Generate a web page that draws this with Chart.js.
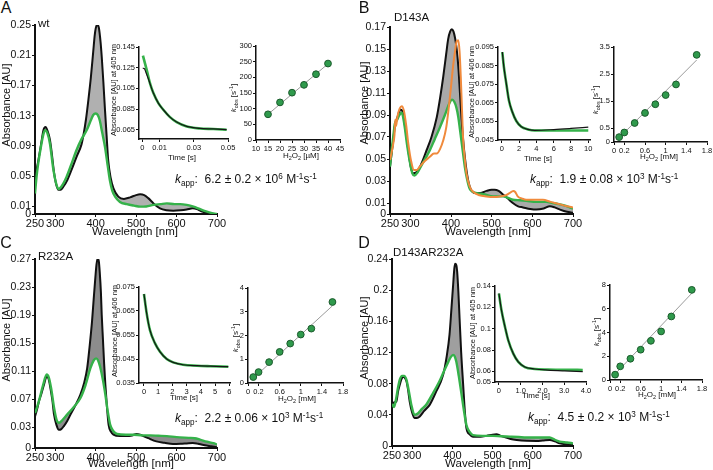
<!DOCTYPE html>
<html>
<head>
<meta charset="utf-8">
<script src="https://cdn.jsdelivr.net/npm/chart.js@4/dist/chart.umd.min.js"></script>
<style>
  html, body { margin: 0; padding: 0; background: #fff; }
  #fig { position: relative; width: 713px; height: 470px; overflow: hidden; font-family: 'Liberation Sans', Arial, sans-serif; color: #111; }
  .cv { position: absolute; }
  .lbl { position: absolute; white-space: nowrap; line-height: 1; transform: translate(-50%, -50%); }
  .lbl.left { transform: translate(0, -50%); }
  .rot { transform: translate(-50%, -50%) rotate(-90deg); }
  .lbl sub, .lbl sup { font-size: 68%; line-height: 0; }
  .lbl sub { vertical-align: -0.35em; }
  .lbl sup { vertical-align: 0.55em; }
</style>
</head>
<body>
<div id="fig"></div>
<script>
// ─── Panel A (wt) spectra ───
const aBlackWl  = [250,254,258,265,271,276,281,287,292,297,302,308,314,320,330,340,353,365,370,376,382,388,394,398,402,405,408,412,415,419,423,427,431,437,444,456,470,485,500,510,520,530,543,559,575,592,610,625,640,650,660,672,683,700];
const aBlackAbs = [0.036,0.058,0.07,0.092,0.111,0.115,0.110,0.098,0.078,0.055,0.040,0.032,0.032,0.036,0.045,0.058,0.076,0.092,0.105,0.125,0.151,0.18,0.215,0.238,0.249,0.25,0.246,0.228,0.208,0.175,0.138,0.104,0.071,0.048,0.034,0.023,0.020,0.022,0.025,0.026,0.025,0.021,0.014,0.0075,0.005,0.0044,0.005,0.006,0.0075,0.0065,0.004,0.002,0.0,0.0];
const aGreenWl  = [250,254,258,265,271,275,280,287,295,302,308,315,328,340,353,365,378,388,394,400,405,410,416,423,430,435,441,448,460,477,495,510,525,543,560,576,595,609,625,642,655,667,683,700];
const aGreenAbs = [0.027,0.05,0.067,0.09,0.106,0.111,0.108,0.093,0.06,0.041,0.033,0.036,0.049,0.066,0.085,0.099,0.111,0.124,0.131,0.133,0.131,0.124,0.108,0.089,0.063,0.045,0.031,0.023,0.016,0.013,0.011,0.0097,0.010,0.012,0.013,0.014,0.013,0.013,0.012,0.0097,0.007,0.0044,0.0018,0.0];
const aYTicks = [0,0.01,0.05,0.09,0.13,0.17,0.21,0.25];

// ─── Panel B (D143A) spectra ───
const bBlackWl  = [250,255,258,262,266,270,275,280,287,295,301,307,315,325,340,352,365,373,381,388,393,398,402,406,410,414,418,422,426,430,434,440,446,458,472,487,500,507,517,527,540,552,565,577,595,610,628,643,655,668,685,700];
const bBlackAbs = [0.043,0.058,0.067,0.08,0.085,0.09,0.095,0.094,0.08,0.058,0.043,0.037,0.038,0.044,0.058,0.07,0.088,0.105,0.125,0.145,0.159,0.166,0.168,0.166,0.160,0.15,0.134,0.11,0.086,0.067,0.052,0.035,0.025,0.019,0.019,0.021,0.022,0.022,0.021,0.018,0.014,0.010,0.007,0.006,0.0045,0.004,0.005,0.007,0.006,0.004,0.002,0.0012];
const bGreenWl  = [250,254,258,262,268,273,279,285,292,299,305,310,318,330,348,360,373,385,393,399,403,408,413,418,422,428,434,440,446,455,463,480,504,528,552,570,585,610,634,650,665,676,700];
const bGreenAbs = [0.043,0.058,0.07,0.082,0.086,0.09,0.092,0.082,0.063,0.047,0.037,0.035,0.038,0.046,0.058,0.068,0.079,0.09,0.098,0.103,0.104,0.102,0.097,0.088,0.077,0.06,0.043,0.031,0.023,0.02,0.019,0.018,0.016,0.016,0.013,0.0125,0.012,0.011,0.011,0.01,0.009,0.008,0.005];
const bOrangeWl  = [250,254,258,261,263,265,268,274,279,284,290,295,302,309,316,323,335,348,358,365,373,381,388,393,399,405,410,414,418,421,424,427,430,434,438,446,455,470,487,505,520,535,544,553,558,564,575,585,605,626,645,667,685,700];
const bOrangeAbs = [0.049,0.056,0.064,0.072,0.086,0.08,0.088,0.096,0.098,0.094,0.08,0.064,0.048,0.040,0.040,0.043,0.048,0.052,0.055,0.055,0.059,0.067,0.078,0.092,0.112,0.134,0.148,0.157,0.158,0.148,0.125,0.095,0.067,0.05,0.037,0.025,0.020,0.017,0.016,0.0155,0.016,0.017,0.019,0.021,0.02,0.016,0.014,0.013,0.013,0.013,0.011,0.009,0.007,0.006];
const bYTicks = [0,0.01,0.03,0.05,0.07,0.09,0.11,0.13,0.15,0.17];

// ─── Panel C (R232A) spectra ───
const cBlackWl  = [250,255,260,266,272,279,284,288,293,297,303,309,315,321,330,338,350,362,372,379,385,391,395,399,402,405,408,410,413,415,418,421,424,428,432,438,444,460,477,490,501,510,518,530,550,570,591,610,625,640,650,656,670,685,700];
const cBlackAbs = [0.045,0.055,0.067,0.078,0.09,0.102,0.098,0.086,0.068,0.048,0.033,0.026,0.027,0.031,0.039,0.048,0.061,0.076,0.094,0.114,0.145,0.181,0.212,0.242,0.262,0.271,0.266,0.252,0.222,0.19,0.155,0.12,0.09,0.058,0.033,0.023,0.019,0.017,0.017,0.018,0.020,0.019,0.017,0.014,0.0095,0.0075,0.0057,0.006,0.0065,0.007,0.0065,0.0057,0.004,0.0025,0.001];
const cGreenWl  = [250,255,262,270,279,284,290,297,303,309,318,330,345,362,375,387,395,401,406,411,418,424,430,436,444,453,475,494,515,535,555,576,600,630,645,658,675,691,700];
const cGreenAbs = [0.05,0.058,0.072,0.09,0.105,0.101,0.085,0.058,0.041,0.036,0.04,0.048,0.058,0.071,0.09,0.114,0.125,0.128,0.125,0.116,0.097,0.076,0.052,0.033,0.024,0.020,0.019,0.019,0.018,0.018,0.0175,0.017,0.0155,0.0145,0.014,0.012,0.009,0.007,0.005];
const cYTicks = [0,0.03,0.07,0.11,0.15,0.19,0.23,0.27];

// ─── Panel D (D143AR232A) spectra ───
const dBlackWl  = [250,255,261,265,269,273,277,281,286,290,294,300,306,312,319,330,344,360,377,386,393,398,402,405,407,410,412,415,418,422,427,431,435,443,451,470,485,500,510,518,526,545,560,585,609,625,642,655,667,685,700];
const dBlackAbs = [0.054,0.056,0.057,0.07,0.078,0.085,0.089,0.088,0.083,0.072,0.057,0.043,0.036,0.036,0.038,0.045,0.053,0.07,0.091,0.115,0.143,0.178,0.207,0.228,0.234,0.232,0.224,0.198,0.164,0.12,0.078,0.045,0.023,0.015,0.012,0.012,0.013,0.0145,0.015,0.0135,0.012,0.009,0.0077,0.0066,0.0064,0.007,0.0077,0.006,0.0034,0.002,0.0013];
const dGreenWl  = [250,255,260,265,270,275,280,286,292,298,306,315,325,335,350,368,380,390,396,402,406,410,416,423,429,435,443,451,475,501,520,543,565,584,610,642,655,667,685,700];
const dGreenAbs = [0.054,0.05,0.06,0.075,0.086,0.09,0.09,0.085,0.07,0.053,0.04,0.042,0.048,0.053,0.066,0.083,0.097,0.108,0.114,0.117,0.115,0.108,0.09,0.066,0.045,0.027,0.018,0.014,0.013,0.013,0.0125,0.012,0.0115,0.011,0.011,0.011,0.008,0.0056,0.0045,0.0034];
const dYTicks = [0,0.04,0.08,0.12,0.16,0.2,0.24];

const wlTicks = [250,300,400,500,600,700];

// ─── Stopped-flow traces ───
const aTraceT    = [0.0003,0.0025,0.0044,0.0064,0.0093,0.0122,0.0161,0.020,0.0259,0.0336,0.0414,0.0492];
const aTraceG    = [0.1366,0.1228,0.110,0.1004,0.0907,0.0843,0.0772,0.0724,0.0682,0.0662,0.0657,0.065];
const aTraceBlkT = [0.0002,0.0012,0.0020,0.0035,0.0064,0.0093,0.0122,0.0161,0.020,0.0259,0.0336,0.0414,0.0492];
const aTraceBlk  = [0.1245,0.124,0.1205,0.114,0.1004,0.0907,0.0843,0.0772,0.0724,0.0682,0.0662,0.0657,0.065];

const bTraceT    = [0.05,0.23,0.51,0.81,1.2,1.67,2.25,3.02,3.8,6,8,10];
const bTraceG    = [0.0923,0.0843,0.0754,0.0664,0.0602,0.0552,0.0521,0.0507,0.0501,0.0501,0.0501,0.0501];
const bTraceBlk  = [0.0923,0.0843,0.0754,0.0664,0.0602,0.0552,0.0521,0.0507,0.0502,0.0506,0.0512,0.0519];

const cTraceT    = [0,0.19,0.42,0.78,1.13,1.6,2.05,2.75,3.72,4.66,5.93];
const cTraceV    = [0.0721,0.064,0.057,0.0515,0.048,0.045,0.0436,0.0426,0.0422,0.042,0.0418];

const dTraceT    = [0,0.12,0.28,0.43,0.66,0.89,1.19,1.65,2.25,3,3.85];
const dTraceG    = [0.133,0.117,0.1016,0.089,0.0766,0.0688,0.064,0.0622,0.0617,0.0615,0.0613];
const dTraceBlk  = [0.133,0.117,0.1016,0.089,0.0766,0.0688,0.064,0.0622,0.0612,0.0604,0.0597];

// ─── kobs vs [H2O2] ───
const aConc = [15,20,25,30,35,40];
const aKobs = [82,120,151,176,210,244];
const aFitX = [15,40];
const aFitY = [82,243];

const mConc = [0.1,0.2,0.4,0.6,0.8,1.0,1.2,1.6];
const bKobs = [0.18,0.35,0.70,1.07,1.39,1.73,2.12,3.21];
const bFitX = [0.15,1.6];
const bFitY = [0.25,3.02];
const cKobs = [0.25,0.46,0.88,1.31,1.66,2.04,2.29,3.41];
const cFitX = [0.1,1.6];
const cFitY = [0.2,3.25];
const dKobs = [0.45,1.15,1.79,2.55,3.3,4.09,5.35,7.59];
const dFitX = [0.1,1.6];
const dFitY = [0.5,7.3];

const FONT = "'Liberation Sans', Arial, Helvetica, sans-serif";
const GREEN = '#35b24a';
const fig = document.getElementById('fig');

const pts = (xs, ys) => xs.map((x, i) => ({ x: x, y: ys[i] }));

const addLabel = (html, x, y, size, mode) => {
    const el = document.createElement('div');
    el.className = 'lbl' + (mode ? ' ' + mode : '');
    el.style.left = x + 'px';
    el.style.top = y + 'px';
    el.style.fontSize = size + 'px';
    el.innerHTML = html;
    fig.appendChild(el);
};

const axis = (min, max, ticks, fmt, size, bw, pad) => ({
    type: 'linear',
    min: min,
    max: max,
    afterBuildTicks: (s) => { s.ticks = ticks.map(v => ({ value: v })); },
    ticks: {
        autoSkip: false,
        maxRotation: 0,
        padding: pad === undefined ? 1 : pad,
        color: '#111',
        font: { family: FONT, size: size },
        callback: (v) => fmt(v)
    },
    grid: { display: true, drawOnChartArea: false, drawTicks: true, tickLength: 3, color: '#111', lineWidth: 1 },
    border: { display: true, color: '#111', width: bw }
});

// box = plot area [left, top, right, bottom] in page pixels
const makeChart = (box, xAxis, yAxis, datasets) => {
    const pad = { l: 40, t: 9, r: 14, b: 22 };
    const w = box[2] - box[0] + pad.l + pad.r;
    const h = box[3] - box[1] + pad.t + pad.b;
    const cv = document.createElement('canvas');
    cv.className = 'cv';
    cv.width = w;
    cv.height = h;
    cv.style.left = (box[0] - pad.l) + 'px';
    cv.style.top = (box[1] - pad.t) + 'px';
    cv.style.width = w + 'px';
    cv.style.height = h + 'px';
    fig.appendChild(cv);
    xAxis.afterFit = (s) => { s.height = pad.b; };
    yAxis.afterFit = (s) => { s.width = pad.l; };
    new Chart(cv, {
        type: 'line',
        data: { datasets: datasets },
        options: {
            responsive: false,
            animation: false,
            devicePixelRatio: 1,
            layout: { padding: { left: 0, top: pad.t, right: pad.r, bottom: 0 } },
            plugins: { legend: { display: false }, tooltip: { enabled: false } },
            scales: { x: xAxis, y: yAxis }
        }
    });
};

const curve = (xs, ys, color, width, extra) => Object.assign({
    data: pts(xs, ys),
    borderColor: color,
    borderWidth: width,
    pointRadius: 0,
    cubicInterpolationMode: 'monotone',
    fill: false
}, extra || {});

const spectrum = (box, yMax, yTicks, black, green, gray, orange) => {
    const sets = [];
    if (orange) sets.push(curve(orange[0], orange[1], '#f08a3c', 2));
    const gi = sets.length;
    sets.push(curve(green[0], green[1], GREEN, 2.4));
    sets.push(curve(black[0], black[1], '#111', 2, { fill: { target: gi }, backgroundColor: gray }));
    makeChart(box,
        axis(250, 700, wlTicks, v => String(v), 11, 2, 0),
        axis(0, yMax, yTicks, v => String(v), 10.5, 2),
        sets);
};

const trace = (box, xr, xt, xf, yr, yt, yf, green, black) => {
    makeChart(box,
        axis(xr[0], xr[1], xt, xf, 7.5, 1.5),
        axis(yr[0], yr[1], yt, yf, 7.5, 1.5),
        [
            curve(black[0], black[1], '#151515', 1.2),
            curve(green[0], green[1], GREEN, 2.6)
        ]);
};

const kobs = (box, xr, xt, yr, yt, conc, k, fx, fy) => {
    makeChart(box,
        axis(xr[0], xr[1], xt, v => String(v), 7.5, 1.5),
        axis(yr[0], yr[1], yt, v => String(v), 7.5, 1.5),
        [
            { data: pts(conc, k), showLine: false, pointRadius: 3.4, pointBackgroundColor: '#2f9a4c', pointBorderColor: '#1b5a2c', pointBorderWidth: 1 },
            { data: pts(fx, fy), borderColor: '#9a9a9a', borderWidth: 1, pointRadius: 0 }
        ]);
};

// ─── Main spectra ───
spectrum([35, 25, 217, 214], 0.25, aYTicks, [aBlackWl, aBlackAbs], [aGreenWl, aGreenAbs], 'rgba(150,150,150,0.75)');
spectrum([390, 27, 573, 214], 0.17, bYTicks, [bBlackWl, bBlackAbs], [bGreenWl, bGreenAbs], 'rgba(140,140,140,0.75)', [bOrangeWl, bOrangeAbs]);
spectrum([35, 259, 217, 448], 0.27, cYTicks, [cBlackWl, cBlackAbs], [cGreenWl, cGreenAbs], 'rgba(120,120,120,0.85)');
spectrum([392, 259, 573, 446], 0.24, dYTicks, [dBlackWl, dBlackAbs], [dGreenWl, dGreenAbs], 'rgba(135,135,135,0.8)');

// ─── Traces ───
trace([139, 47, 228, 139], [-0.002, 0.05], [0, 0.01, 0.03, 0.05], v => String(v),
      [0.056, 0.145], [0.065, 0.085, 0.105, 0.125, 0.145], v => String(v),
      [aTraceT, aTraceG], [aTraceBlkT, aTraceBlk]);
trace([498, 47, 590, 140], [-0.45, 10.2], [0, 2, 4, 6, 8, 10], v => String(v),
      [0.045, 0.095], [0.045, 0.055, 0.065, 0.075, 0.085, 0.095], v => String(v),
      [bTraceT, bTraceG], [bTraceT, bTraceBlk]);
trace([139, 287, 230, 383], [-0.35, 6.05], [0, 1, 2, 3, 4, 5, 6], v => String(v),
      [0.035, 0.075], [0.035, 0.045, 0.055, 0.065, 0.075], v => String(v),
      [cTraceT, cTraceV], [cTraceT, cTraceV]);
trace([495, 286, 586, 382], [-0.18, 4.0], [0, 1, 2, 3, 4], v => (v === 0 ? '0' : v.toFixed(1)),
      [0.05, 0.14], [0.05, 0.06, 0.08, 0.1, 0.12, 0.14], v => String(v),
      [dTraceT, dTraceG], [dTraceT, dTraceBlk]);

// ─── kobs plots ───
kobs([256, 46, 340, 140], [10, 45], [10, 15, 20, 25, 30, 35, 40, 45], [0, 300], [0, 50, 100, 150, 200, 250, 300], aConc, aKobs, aFitX, aFitY);
kobs([614, 47, 707, 142], [0, 1.8], [0, 0.2, 0.6, 1, 1.4, 1.8], [0, 3.5], [0, 0.5, 1.5, 2.5, 3.5], mConc, bKobs, bFitX, bFitY);
kobs([248, 288, 343, 383], [0, 1.8], [0, 0.2, 0.6, 1, 1.4, 1.8], [0, 4], [0, 1, 2, 3, 4], mConc, cKobs, cFitX, cFitY);
kobs([610, 285, 702, 380], [0, 1.8], [0, 0.2, 0.6, 1, 1.4, 1.8], [0, 8], [0, 2, 4, 6, 8], mConc, dKobs, dFitX, dFitY);

// ─── Text ───
addLabel('A', 6, 8, 16);
addLabel('B', 364, 8, 16);
addLabel('C', 6, 243, 16);
addLabel('D', 364, 243, 16);
addLabel('wt', 38, 24, 11.5, 'left');
addLabel('D143A', 394, 18, 11.5, 'left');
addLabel('R232A', 38, 257, 11.5, 'left');
addLabel('D143AR232A', 393, 253, 11.5, 'left');

[[6, 105], [364, 103], [6, 340], [364, 338]].forEach(p => addLabel('Absorbance [AU]', p[0], p[1], 11, 'rot'));
[[135, 232], [488, 232], [131, 464], [488, 464]].forEach(p => addLabel('Wavelength [nm]', p[0], p[1], 11.5));

addLabel('Absorbance [AU] at 405 nm', 114, 90, 7.5, 'rot');
addLabel('Absorbance [AU] at 406 nm', 472, 92, 7.5, 'rot');
addLabel('Absorbance [AU] at 406 nm', 115, 331, 7.5, 'rot');
addLabel('Absorbance [AU] at 405 nm', 473, 333, 7.5, 'rot');
[[182, 158], [538, 159], [184, 398], [536, 396]].forEach(p => addLabel('Time [s]', p[0], p[1], 8));

const kobsTitle = '<i>k</i><sub>obs</sub> [s<sup>-1</sup>]';
[[234, 98], [596, 100], [236, 338], [597, 332]].forEach(p => addLabel(kobsTitle, p[0], p[1], 8, 'rot'));
addLabel('H<sub>2</sub>O<sub>2</sub> [µM]', 301, 156, 8);
[[659, 157], [297, 399], [657, 395]].forEach(p => addLabel('H<sub>2</sub>O<sub>2</sub> [mM]', p[0], p[1], 8));

const kapp = (val, exp) => '<i>k</i><sub>app</sub>:&nbsp; ' + val + ' × 10<sup>' + exp + '</sup> M<sup>-1</sup>s<sup>-1</sup>';
addLabel(kapp('6.2 ± 0.2', 6), 175, 179, 12, 'left');
addLabel(kapp('1.9 ± 0.08', 3), 530, 179, 12, 'left');
addLabel(kapp('2.2 ± 0.06', 3), 175, 418, 12, 'left');
addLabel(kapp('4.5 ± 0.2', 3), 528, 417, 12, 'left');
</script>
</body>
</html>
